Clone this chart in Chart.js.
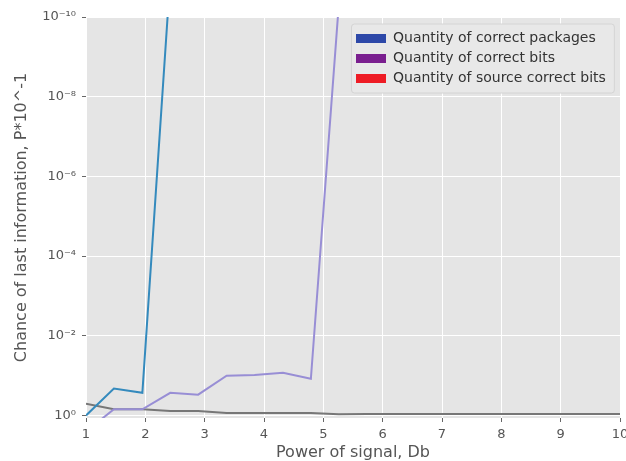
<!DOCTYPE html>
<html>
<head>
<meta charset="utf-8">
<script src="https://cdn.jsdelivr.net/npm/chart.js@4.4.1/dist/chart.umd.min.js"></script>
<style>
  html, body { margin: 0; padding: 0; background: #ffffff; }
  #wrap { width: 626px; height: 461px; position: relative; }
</style>
</head>
<body>
<div id="wrap"><canvas id="myChart"></canvas></div>
<script>
// signal power, Db
const signalDb = [1, 1.47, 1.95, 2.42, 2.89, 3.37, 3.84, 4.32, 4.79, 5.26,
  5.74, 6.21, 6.68, 7.16, 7.63, 8.11, 8.58, 9.05, 9.53, 10];

const correctPackages = [1.0, 0.21, 0.27, 1e-11, null, null, null, null, null, null,
  null, null, null, null, null, null, null, null, null, null];
const correctBits = [2.5, 0.70, 0.70, 0.27, 0.30, 0.10, 0.096, 0.085, 0.12, 5e-11,
  null, null, null, null, null, null, null, null, null, null];
const sourceCorrectBits = [0.51, 0.70, 0.70, 0.77, 0.77, 0.86, 0.86, 0.86, 0.86, 0.93,
  0.92, 0.92, 0.92, 0.92, 0.92, 0.92, 0.92, 0.92, 0.92, 0.92];

const seriesNames = ['Quantity of correct packages', 'Quantity of correct bits', 'Quantity of source correct bits'];
const lineColors = ['#348ABD', '#988ED5', '#777777'];
const legendColors = ['#2D48A8', '#7A1F8F', '#EE1C25'];

const yTicks = [1, 1e-2, 1e-4, 1e-6, 1e-8, 1e-10];
const yTickLabels = ['10⁰', '10⁻²', '10⁻⁴', '10⁻⁶', '10⁻⁸', '10⁻¹⁰'];

Chart.defaults.font.family = 'DejaVu Sans';

function points(values) {
  return signalDb.map((x, i) => ({ x: x, y: values[i] }));
}

// grey plot background
const plotBg = {
  id: 'plotBg',
  beforeDraw(chart) {
    const a = chart.chartArea;
    const c = chart.ctx;
    c.save();
    c.fillStyle = '#E5E5E5';
    c.fillRect(a.left, a.top, a.right - a.left, a.bottom - a.top);
    c.restore();
  }
};

// move the legend to the upper right corner of the plot and give it a box
const legendBox = {
  id: 'legendBox',
  afterLayout(chart) {
    const lg = chart.legend;
    const a = chart.chartArea;
    lg.left = 350;
    lg.top = a.top + 8.5;
    lg.right = a.right;
    lg.bottom = a.bottom;
    if (!lg._boxed) {
      const draw = lg.draw;
      lg.draw = function () {
        const hb = this.legendHitBoxes;
        if (hb && hb.length) {
          let l = Infinity, t = Infinity, r = -Infinity, b = -Infinity;
          hb.forEach(h => {
            l = Math.min(l, h.left); t = Math.min(t, h.top);
            r = Math.max(r, h.left + h.width); b = Math.max(b, h.top + h.height);
          });
          const c = chart.ctx;
          c.save();
          c.fillStyle = '#E8E8E8';
          c.strokeStyle = '#D4D4D4';
          c.lineWidth = 1;
          c.beginPath();
          c.roundRect(l - 4.5, t - 7.5, (r - l) + 13, (b - t) + 15, 3);
          c.fill();
          c.stroke();
          c.restore();
        }
        draw.apply(this, arguments);
      };
      lg._boxed = true;
    }
  }
};

const ctx = document.getElementById('myChart').getContext('2d');

const myChart = new Chart(ctx, {
  type: 'line',
  data: {
    datasets: [
      { label: seriesNames[0], data: points(correctPackages), borderColor: lineColors[0] },
      { label: seriesNames[1], data: points(correctBits), borderColor: lineColors[1] },
      { label: seriesNames[2], data: points(sourceCorrectBits), borderColor: lineColors[2] }
    ]
  },
  options: {
    responsive: true,
    maintainAspectRatio: false,
    animation: false,
    layout: { padding: { top: 17, right: 6, left: 0, bottom: 0 } },
    elements: {
      line: { borderWidth: 2, tension: 0, fill: false },
      point: { radius: 0, hoverRadius: 0 }
    },
    plugins: {
      tooltip: { enabled: false },
      legend: {
        position: 'chartArea',
        align: 'start',
        labels: {
          boxWidth: 30,
          boxHeight: 9,
          padding: 6,
          color: '#333333',
          font: { size: 14 },
          generateLabels: () => seriesNames.map((name, i) => ({
            text: name,
            fillStyle: legendColors[i],
            strokeStyle: legendColors[i],
            lineWidth: 0,
            hidden: false,
            datasetIndex: i,
            fontColor: '#333333'
          }))
        }
      }
    },
    scales: {
      x: {
        type: 'linear',
        min: 1,
        max: 10,
        z: -1,
        border: { display: false },
        grid: { color: '#FFFFFF', lineWidth: 1, tickColor: '#666666', tickLength: 4, tickWidth: 1 },
        ticks: { stepSize: 1, color: '#555555', font: { size: 13 }, padding: 5, maxRotation: 0 },
        title: {
          display: true,
          text: 'Power of signal, Db',
          color: '#555555',
          font: { size: 16, lineHeight: 1 },
          padding: { top: 0, bottom: 0 }
        },
        afterFit(scale) {
          scale.height = 43;
          scale.paddingLeft = 0;
          scale.paddingRight = 0;
        }
      },
      y: {
        type: 'logarithmic',
        reverse: true,
        min: 1e-10,
        max: 1.155,
        bounds: 'data',
        z: -1,
        border: { display: false },
        grid: { color: '#FFFFFF', lineWidth: 1, tickColor: '#666666', tickLength: 4, tickWidth: 1 },
        afterBuildTicks(scale) {
          scale.ticks = yTicks.map(v => ({ value: v }));
        },
        ticks: {
          color: '#555555',
          font: { size: 13 },
          padding: 6,
          callback: (value, index) => yTickLabels[index]
        },
        title: {
          display: true,
          text: 'Chance of last information, P*10^-1',
          color: '#555555',
          font: { size: 16, lineHeight: 1 },
          padding: { top: 14, bottom: 0 }
        },
        afterFit(scale) {
          scale.width = 86;
          scale.paddingTop = 0;
          scale.paddingBottom = 0;
        }
      }
    }
  },
  plugins: [plotBg, legendBox]
});
</script>
</body>
</html>
